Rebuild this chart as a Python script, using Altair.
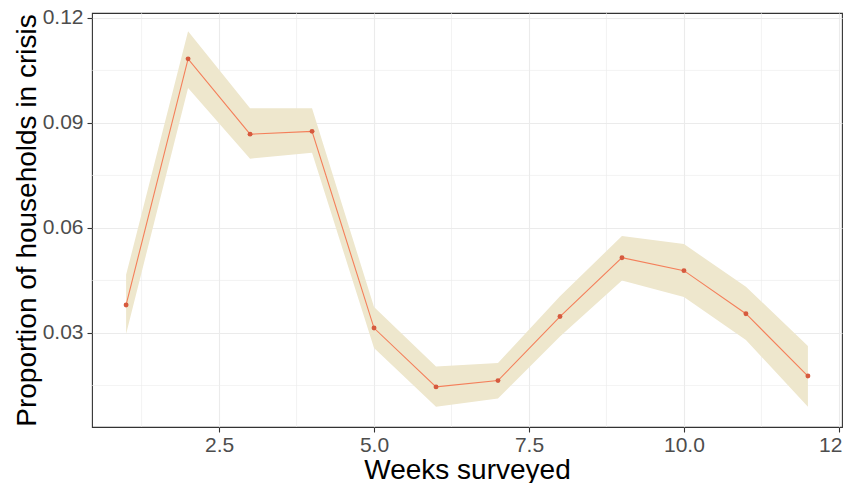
import altair as alt
import pandas as pd

weeks = [1, 2, 3, 4, 5, 6, 7, 8, 9, 10, 11, 12]
prop = [0.0380, 0.1083, 0.0868, 0.0876, 0.0314, 0.0146, 0.0164, 0.0347, 0.0515, 0.0478, 0.0355, 0.0177]
lower = [0.0297, 0.1000, 0.0798, 0.0815, 0.0257, 0.0089, 0.0113, 0.0290, 0.0450, 0.0403, 0.0280, 0.0089]
upper = [0.0466, 0.1162, 0.0942, 0.0942, 0.0374, 0.0204, 0.0214, 0.0405, 0.0577, 0.0554, 0.0432, 0.0263]

x_ticks = [2.5, 5.0, 7.5, 10.0, 12.5]
y_ticks = [0.03, 0.06, 0.09, 0.12]
x_minor = [1.25, 3.75, 6.25, 8.75, 11.25]
y_minor = [0.015, 0.045, 0.075, 0.105]

df = pd.DataFrame({"week": weeks, "prop": prop, "lo": lower, "hi": upper})

xscale = alt.Scale(domain=[0.45, 12.55], nice=False, zero=False)
yscale = alt.Scale(domain=[0.00314, 0.1214], nice=False, zero=False)

grid_col = "#EBEBEB"

xaxis = alt.Axis(values=x_ticks, format=".1f", title="Weeks surveyed",
                 grid=True, gridColor=grid_col, gridWidth=1.1,
                 domain=False, tickColor="#333333", tickSize=5, tickWidth=1.1,
                 labelFont="Liberation Sans", labelFontSize=21, labelColor="#4D4D4D",
                 labelPadding=2,
                 titleFont="Liberation Sans", titleFontSize=28, titleFontWeight="normal",
                 titleColor="#000000", titleBaseline="alphabetic", titleY=51)
yaxis = alt.Axis(values=y_ticks, format=".2f", title="Proportion of households in crisis",
                 grid=True, gridColor=grid_col, gridWidth=1.1,
                 domain=False, tickColor="#333333", tickSize=5, tickWidth=1.1,
                 labelFont="Liberation Sans", labelFontSize=21, labelColor="#4D4D4D",
                 labelPadding=4,
                 titleFont="Liberation Sans", titleFontSize=28, titleFontWeight="normal",
                 titleColor="#000000", titleBaseline="alphabetic", titleX=-57)

xm = alt.Chart(pd.DataFrame({"v": x_minor})).mark_rule(color=grid_col, strokeWidth=0.6).encode(
    x=alt.X("v:Q", scale=xscale, axis=xaxis))
ym = alt.Chart(pd.DataFrame({"v": y_minor})).mark_rule(color=grid_col, strokeWidth=0.6).encode(
    y=alt.Y("v:Q", scale=yscale, axis=yaxis))

base = alt.Chart(df)
band = base.mark_area(color="#EEE7CD", opacity=1).encode(
    x=alt.X("week:Q", scale=xscale, axis=xaxis),
    y=alt.Y("lo:Q", scale=yscale, axis=yaxis),
    y2="hi:Q")
line = base.mark_line(color="#F47F5A", strokeWidth=1.1).encode(
    x=alt.X("week:Q", scale=xscale, axis=xaxis),
    y=alt.Y("prop:Q", scale=yscale, axis=yaxis))
pts = base.mark_circle(color="#D65A3E", opacity=1, size=24).encode(
    x=alt.X("week:Q", scale=xscale, axis=xaxis),
    y=alt.Y("prop:Q", scale=yscale, axis=yaxis))

chart = alt.layer(xm, ym, band, line, pts).properties(
    width=750, height=414,
    background="white",
    autosize=alt.AutoSizeParams(type="none"),
    padding={"left": 84, "top": 5, "right": 1, "bottom": 56},
).configure_view(stroke="#333333", strokeWidth=1.1)

chart.save("out.html", embed_options={"renderer": "svg", "actions": False})
